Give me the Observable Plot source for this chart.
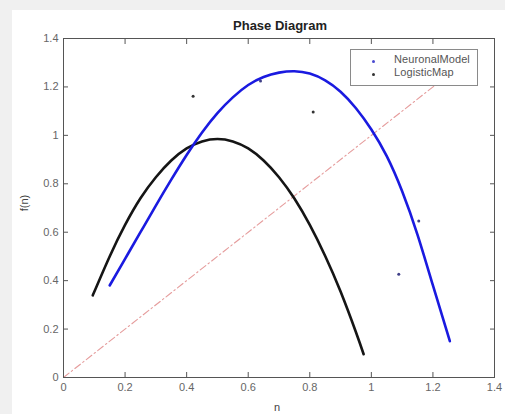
<!DOCTYPE html>
<html><head><meta charset="utf-8">
<script src="https://cdn.jsdelivr.net/npm/d3@7"></script>
<script src="https://cdn.jsdelivr.net/npm/@observablehq/plot@0.6"></script>
<style>
html,body{margin:0;padding:0;background:#f0f0f0;width:505px;height:414px;overflow:hidden;font-family:"Liberation Sans",Arial,sans-serif;}
#fig{position:absolute;left:12px;top:10px;width:493px;height:404px;background:#fff;}
#fig svg{position:absolute;left:0;top:0;}
.t{position:absolute;white-space:nowrap;color:#222;}
#title{left:188px;width:160px;text-align:center;top:8px;font-weight:bold;font-size:13px;}
#xl{left:262px;top:391px;font-size:11px;color:#444;}
#yl{left:4px;top:187px;font-size:11px;color:#444;transform:rotate(-90deg);transform-origin:center;}
#legend{position:absolute;left:338px;top:39px;width:126px;height:35px;border:1px solid #8a8a8a;background:#fff;}
.li{position:absolute;left:43px;font-size:11px;color:#555;letter-spacing:0.1px;}
.lm{position:absolute;left:21px;width:3px;height:3px;border-radius:2px;}
</style></head>
<body>
<div id="fig">
  <div id="chart"></div>
  <div class="t" id="title">Phase Diagram</div>
  <div class="t" id="xl">n</div>
  <div class="t" id="yl">f(n)</div>
  <div id="legend">
    <div class="lm" style="top:10px;background:#4a4ad0"></div><div class="li" style="top:3px">NeuronalModel</div>
    <div class="lm" style="top:23px;background:#333"></div><div class="li" style="top:16px">LogisticMap</div>
  </div>
</div>
<script>
// Axis ticks
const xTicks = [0, 0.2, 0.4, 0.6, 0.8, 1, 1.2, 1.4];
const yTicks = [0, 0.2, 0.4, 0.6, 0.8, 1, 1.2, 1.4];

// LogisticMap curve (black)
const logX = [0.095, 0.15, 0.2, 0.25, 0.3, 0.35, 0.4, 0.45, 0.5, 0.55, 0.6, 0.65, 0.7, 0.75, 0.8, 0.85, 0.9, 0.95, 0.975];
const logY = [0.339, 0.50, 0.63, 0.74, 0.827, 0.896, 0.946, 0.975, 0.985, 0.975, 0.946, 0.896, 0.827, 0.739, 0.63, 0.502, 0.355, 0.187, 0.096];

// NeuronalModel curve (blue)
const neuX = [0.15, 0.2, 0.25, 0.3, 0.35, 0.4, 0.45, 0.5, 0.55, 0.6, 0.65, 0.7, 0.75, 0.8, 0.85, 0.9, 0.95, 1.0, 1.05, 1.1, 1.15, 1.2, 1.255];
const neuY = [0.38, 0.49, 0.60, 0.71, 0.817, 0.919, 1.012, 1.092, 1.157, 1.208, 1.241, 1.259, 1.265, 1.255, 1.227, 1.18, 1.112, 1.024, 0.914, 0.769, 0.589, 0.38, 0.15];

// Diagonal y = x
const diagX = [0, 1.25];
const diagY = [0, 1.25];

// Scatter points
const neuPtX = [0.64, 1.154, 1.089];
const neuPtY = [1.224, 0.646, 0.426];
const logPtX = [0.421, 0.811];
const logPtY = [1.161, 1.096];

const toRows = (xs, ys) => xs.map((x, i) => ({x, y: ys[i]}));
const fmt = d => String(+d.toFixed(1));

const chart = Plot.plot({
  width: 493, height: 404,
  marginLeft: 51, marginRight: 11, marginTop: 28, marginBottom: 37,
  x: {domain: [0, 1.4], label: null},
  y: {domain: [0, 1.4], label: null},
  style: {fontFamily: "'Liberation Sans', Arial, sans-serif", fontSize: "11px", color: "#666", background: "transparent", overflow: "visible"},
  marks: [
    Plot.line(toRows(diagX, diagY), {x: "x", y: "y", stroke: "#e08a8a", strokeWidth: 1.1, strokeDasharray: "7,3,1.5,3", strokeOpacity: 0.85}),
    Plot.line(toRows(logX, logY), {x: "x", y: "y", curve: "natural", stroke: "#151515", strokeWidth: 2.6}),
    Plot.line(toRows(neuX, neuY), {x: "x", y: "y", curve: "natural", stroke: "#1a1ae0", strokeWidth: 2.6}),
    Plot.dot(toRows(neuPtX, neuPtY), {x: "x", y: "y", r: 1.5, fill: "#404088", stroke: null}),
    Plot.dot(toRows(logPtX, logPtY), {x: "x", y: "y", r: 1.5, fill: "#333", stroke: null}),
    Plot.frame({stroke: "#555"}),
    Plot.axisX(xTicks, {anchor: "bottom", tickSize: -5, tickPadding: 11, tickFormat: fmt, label: null, stroke: "#555"}),
    Plot.axisX(xTicks, {anchor: "top", tickSize: -5, tickFormat: () => "", label: null, stroke: "#555"}),
    Plot.axisY(yTicks, {anchor: "left", tickSize: -5, tickPadding: 10, tickFormat: fmt, label: null, stroke: "#555"}),
    Plot.axisY(yTicks, {anchor: "right", tickSize: -5, tickFormat: () => "", label: null, stroke: "#555"})
  ]
});
document.getElementById("chart").appendChild(chart);
</script>
</body></html>
